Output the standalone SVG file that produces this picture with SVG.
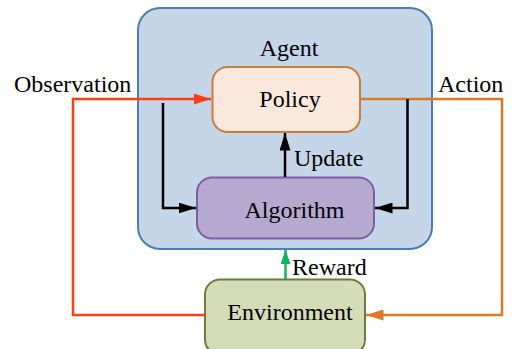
<svg xmlns="http://www.w3.org/2000/svg" width="512" height="349" viewBox="0 0 512 349">
<defs>
<style>
.box{stroke-width:2}
.ln{fill:none;stroke-width:2.5}
</style>
<marker id="aRed" viewBox="0 0 10 10" preserveAspectRatio="none" refX="10" refY="5" markerWidth="7" markerHeight="4.6" markerUnits="strokeWidth" orient="auto"><path d="M0,0L10,5L0,10z" fill="#ff3d17"/></marker>
<marker id="aOr" viewBox="0 0 10 10" preserveAspectRatio="none" refX="10" refY="5" markerWidth="7" markerHeight="4.4" markerUnits="strokeWidth" orient="auto"><path d="M0,0L10,5L0,10z" fill="#d9792a"/></marker>
<marker id="aBk" viewBox="0 0 10 10" preserveAspectRatio="none" refX="10" refY="5" markerWidth="7" markerHeight="4.4" markerUnits="strokeWidth" orient="auto"><path d="M0,0L10,5L0,10z" fill="#000"/></marker>
<marker id="aGr" viewBox="0 0 10 10" preserveAspectRatio="none" refX="10" refY="5" markerWidth="5.6" markerHeight="4" markerUnits="strokeWidth" orient="auto"><path d="M0,0L10,5L0,10z" fill="#12b45a"/></marker>
</defs>
<g id="agent">
<rect class="box" x="138" y="8" width="294" height="241" rx="22" fill="#c5d6e8" stroke="#4a7eb2"/>
<text x="289" y="56" text-anchor="middle" font-family="Liberation Serif" font-size="24" fill="#000">Agent</text>
</g>
<g id="policy">
<rect class="box" x="212.5" y="67" width="147.5" height="65" rx="15" fill="#fbe8dc" stroke="#c97c3c"/>
<text x="290" y="107" text-anchor="middle" font-family="Liberation Serif" font-size="24" fill="#000">Policy</text>
</g>
<g id="algorithm">
<rect class="box" x="197" y="177.5" width="177" height="61" rx="15" fill="#b6a9d0" stroke="#7c5f9f"/>
<text x="294.5" y="218" text-anchor="middle" font-family="Liberation Serif" font-size="24" fill="#000">Algorithm</text>
</g>
<g id="environment">
<rect class="box" x="205" y="279.5" width="160" height="75" rx="15" fill="#d4ddb7" stroke="#6c7b3b"/>
<text x="290" y="320" text-anchor="middle" font-family="Liberation Serif" font-size="24" fill="#000">Environment</text>
</g>
<g id="connectors">
<path class="ln" d="M205,315H73V99H211" stroke="#ff3d17" marker-end="url(#aRed)"/>
<path class="ln" d="M360,99H502V315H366" stroke="#d9792a" marker-end="url(#aOr)"/>
<path class="ln" d="M163,103V208H196" stroke="#000" marker-end="url(#aBk)"/>
<path class="ln" d="M407.5,99V208H375" stroke="#000" marker-end="url(#aBk)"/>
<path class="ln" d="M285,177V133" stroke="#000" marker-end="url(#aBk)"/>
<path class="ln" d="M285.5,279V250" stroke="#12b45a" marker-end="url(#aGr)"/>
<text x="14" y="92" font-family="Liberation Serif" font-size="24" fill="#000">Observation</text>
<text x="438" y="92" font-family="Liberation Serif" font-size="24" fill="#000">Action</text>
<text x="294" y="166" font-family="Liberation Serif" font-size="24" fill="#000">Update</text>
<text x="292" y="275" font-family="Liberation Serif" font-size="24" fill="#000">Reward</text>
</g>
</svg>
